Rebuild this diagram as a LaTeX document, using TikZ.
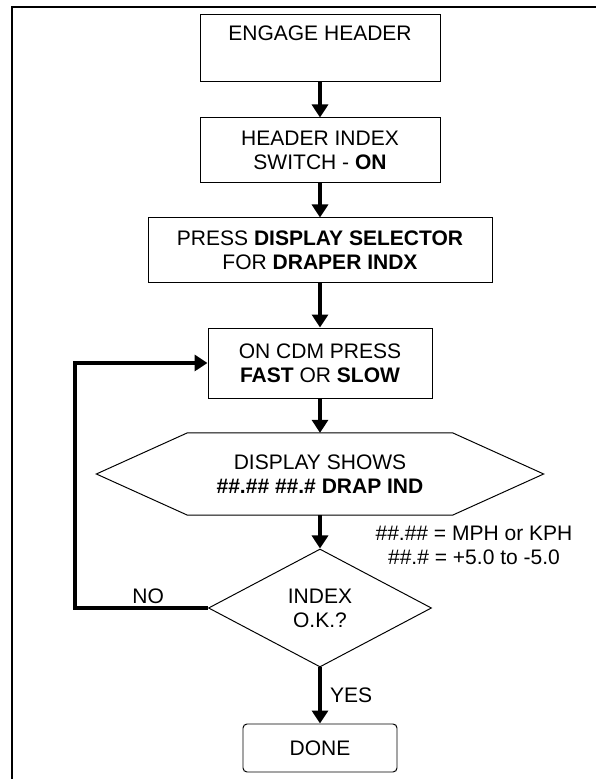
\documentclass[tikz,border=0pt]{standalone}
\usepackage{fontspec}
\setmainfont{Liberation Sans}
\usepackage{tikz}
\usetikzlibrary{shapes,arrows.meta,positioning,calc}

\newcommand{\flowfont}{\fontsize{29.9pt}{34.1pt}\selectfont}

\begin{document}
\begin{tikzpicture}[
    procbox/.style={rectangle, draw, line width=1.4pt, align=center, inner sep=0pt, font=\flowfont},
    showbox/.style={rectangle, align=center, inner sep=0pt, font=\flowfont},
    testbox/.style={diamond, draw, line width=1.4pt, align=center, inner sep=0pt, font=\flowfont, minimum width=11.15cm, minimum height=5.9cm},
    endbox/.style={rectangle, rounded corners=0.2cm, draw, line width=1.4pt, font=\flowfont, minimum width=7.7cm, minimum height=2.4cm},
    note/.style={font=\flowfont, align=center},
    arrow/.style={-{Triangle[length=0.65cm, width=0.8cm]}, line width=4.7pt}
]

\useasboundingbox (0,0) rectangle (29.8,38.95);

% Frame
\draw[line width=0.1cm] (0.6,-0.5) -- (0.6,38.6) -- (30.5,38.6);

% Steps
\node[procbox, minimum width=12cm, minimum height=3.35cm] (engage) at (16, 36.525) {ENGAGE HEADER\\\strut};
\node[procbox, minimum width=12cm, minimum height=3.25cm] (switch) at (16, 31.425) {HEADER INDEX\\SWITCH - \textbf{ON}};
\node[procbox, minimum width=17.2cm, minimum height=3.25cm] (select) at (16, 26.425) {PRESS \textbf{DISPLAY SELECTOR}\\FOR \textbf{DRAPER INDX}};
\node[procbox, minimum width=11.2cm, minimum height=3.5cm] (cdm) at (16, 20.8) {ON CDM PRESS\\\textbf{FAST} OR \textbf{SLOW}};

% Display (hexagon)
\node[showbox, minimum width=13.25cm, minimum height=4.1cm] (show) at (16, 15.25) {DISPLAY SHOWS\\\textbf{\#\#.\#\# \#\#.\# DRAP IND}};
\draw[line width=1.4pt] (show.north west) -- (show.north east) -- ($(show.east)+(4.55,0)$)
    -- (show.south east) -- (show.south west) -- ($(show.west)+(-4.55,0)$) -- cycle;

% Units note
\node[note] (units) at (23.7, 11.7) {\#\#.\#\# = MPH or KPH\\\#\#.\# = +5.0 to -5.0};

% Decision and end
\node[testbox] (check) at (16, 8.55) {INDEX\\O.K.?};
\node[endbox] (done) at (16, 1.55) {DONE};

% Loop corner
\coordinate (loop) at (3.75, 8.55);

% Arrows
\draw[arrow] (engage) -- (switch);
\draw[arrow] (switch) -- (select);
\draw[arrow] (select) -- (cdm);
\draw[arrow] (cdm) -- (show);
\draw[arrow] (show) -- (check);
\draw[arrow] (check) -- (done) node[midway, right, xshift=0.3cm, font=\flowfont] {YES};
\draw[arrow] (check.west) -- (loop) node[pos=0.45, above, font=\flowfont] {NO} |- (cdm.west);

\end{tikzpicture}
\end{document}
